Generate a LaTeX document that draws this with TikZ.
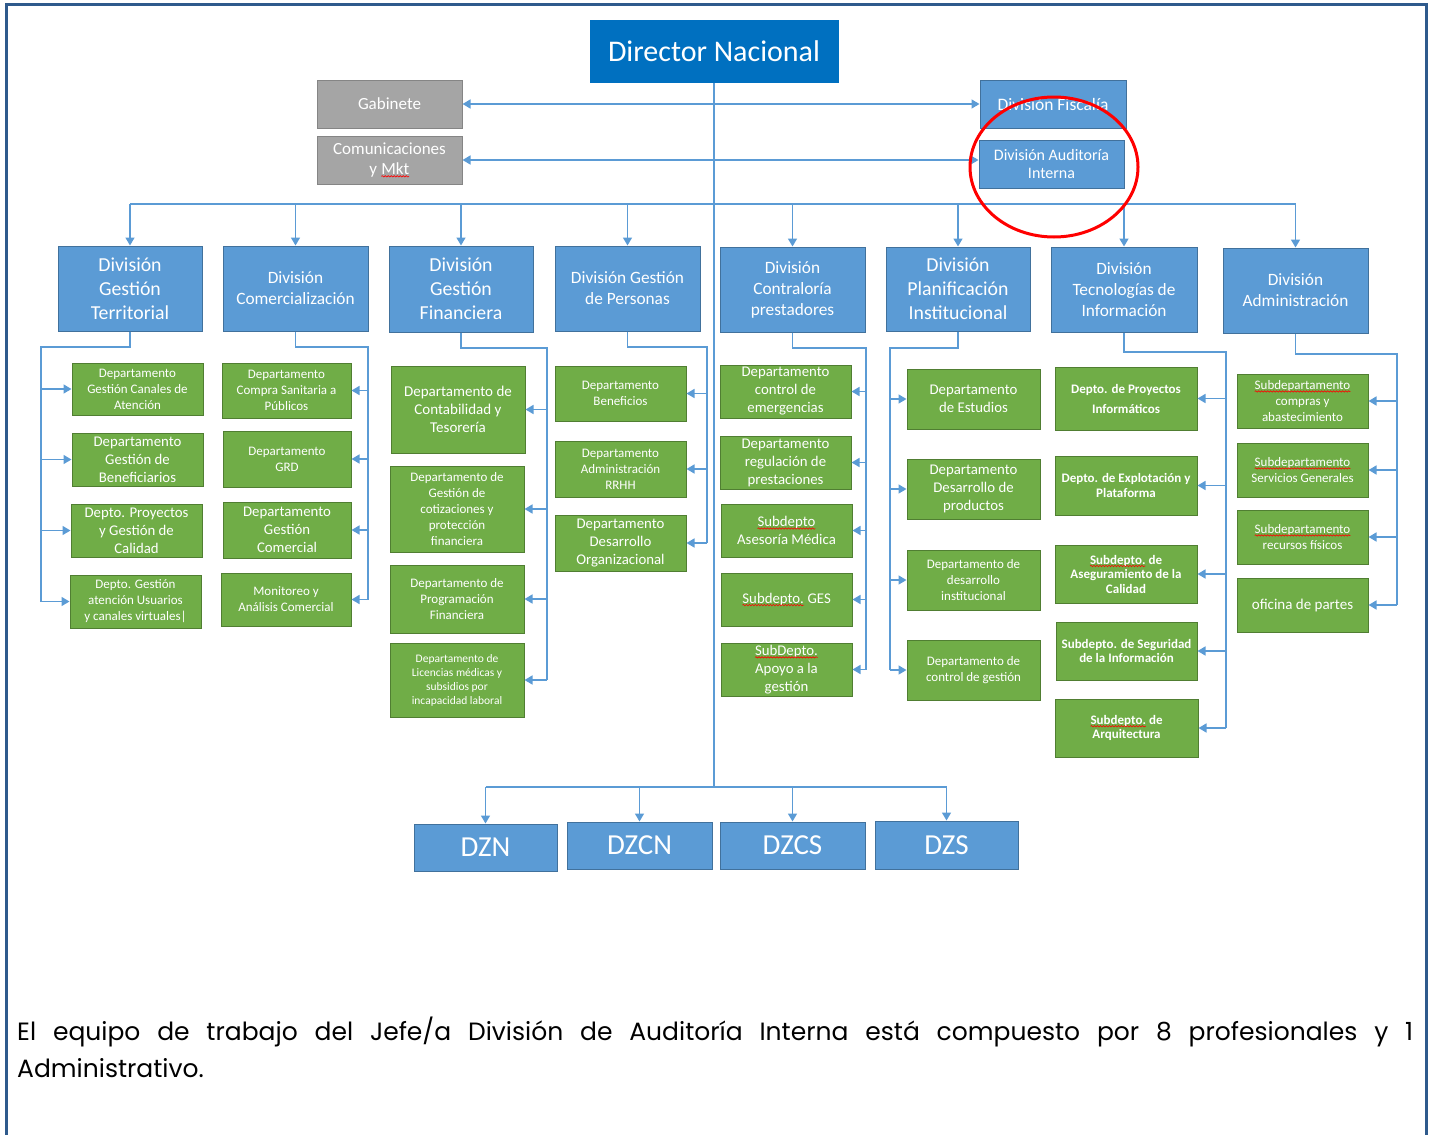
\documentclass[tikz,border=0pt]{standalone}
\usepackage{fontspec}
\setmainfont{Carlito}
\newfontfamily\gothic{Poppins}
\usetikzlibrary{arrows.meta,decorations.pathmorphing}
\definecolor{dnblue}{HTML}{0070C0}
\definecolor{lblue}{HTML}{5B9BD5}
\definecolor{lbluedk}{HTML}{41719C}
\definecolor{ggreen}{HTML}{70AD47}
\definecolor{ggreendk}{HTML}{507E32}
\definecolor{ggray}{HTML}{A5A5A5}
\definecolor{ggraydk}{HTML}{858585}
\definecolor{frameblue}{HTML}{2F5A8C}
\definecolor{conn}{HTML}{5B9BD5}
\newcommand\wavy[1]{\tikz[baseline=(w.base)]{\node[draw=none, fill=none, minimum width=0pt, minimum height=0pt, inner sep=0pt, outer sep=0pt, text=white, align=left] (w) {#1};
  \draw[red, line width=0.6pt, decorate, decoration={snake, amplitude=0.7pt, segment length=3pt}] ([yshift=-2pt]w.base west) -- ([yshift=-2pt]w.base east);}}
\newcommand\bx[7]{\node[#6, minimum width={#4-#2}, minimum height={#5-#3}] (#1) at ({(#2+#4)/2},{(#3+#5)/2}) {#7};}
\tikzset{
  box/.style={draw, line width=1pt, inner sep=0pt, align=center, text=white},
  dbox/.style={box, fill=lblue, draw=lbluedk},
  gbox/.style={box, fill=ggreen, draw=ggreendk},
  grbox/.style={box, fill=ggray, draw=ggraydk},
  line/.style={draw=conn, line width=1.6pt},
  arr/.style={line, -{Triangle[length=8pt,width=9pt]}},
  fA/.style={font=\fontsize{13}{16}\selectfont},
  fS/.style={font=\fontsize{11.5}{14}\selectfont},
  fB/.style={font=\fontsize{14.8}{18}\selectfont},
  fT/.style={font=\fontsize{15}{18}\selectfont},
  fL/.style={font=\fontsize{19.8}{24}\selectfont},
  fM/.style={font=\fontsize{17.3}{21}\selectfont},
  fC/.style={font=\fontsize{13}{14.5}\selectfont\bfseries},
  fZ/.style={font=\fontsize{29}{32}\selectfont},
}
\begin{document}
\begin{tikzpicture}[x=1pt,y=-1pt]
\useasboundingbox (0,0) rectangle (1430,1135);
\draw[frameblue, line width=3pt] (6,1135) -- (6,4) -- (1426,4) -- (1426,1135);

% top level
\bx{dn}{590}{20}{838}{82}{box, fill=dnblue, draw=dnblue, font=\fontsize{30}{34}\selectfont}{Director Nacional}
\bx{gab}{317}{80}{462}{128}{grbox, font=\fontsize{17}{20}\selectfont}{Gabinete}
\bx{com}{317}{136}{462}{184}{grbox, font=\fontsize{17}{20}\selectfont}{Comunicaciones\\y \wavy{Mkt}}
\bx{fis}{980}{80}{1126}{128}{dbox, font=\fontsize{17.5}{20}\selectfont}{División Fiscalía}
\bx{aud}{979}{140}{1124}{188}{dbox, font=\fontsize{16}{18}\selectfont}{División Auditoría\\Interna}

% divisions
\bx{dgt}{58}{246}{202}{331}{dbox, fL}{División\\Gestión\\Territorial}
\bx{dcom}{223}{246}{368}{331}{dbox, fM}{División\\Comercialización}
\bx{dfin}{389}{246}{533}{332}{dbox, fL}{División\\Gestión\\Financiera}
\bx{dper}{555}{246}{700}{331}{dbox, fM}{División Gestión\\de Personas}
\bx{dcon}{720}{247}{865}{332}{dbox, fM}{División\\Contraloría\\prestadores}
\bx{dpla}{886}{247}{1030}{331}{dbox, fL}{División\\Planificación\\Institucional}
\bx{dtec}{1051}{247}{1197}{332}{dbox, fM}{División\\Tecnologías de\\Información}
\bx{dadm}{1223}{248}{1368}{333}{dbox, fM}{División\\Administración}

% column 1
\bx{g11}{72}{363}{203}{415}{gbox, fA}{Departamento\\Gestión Canales de\\Atención}
\bx{g12}{72}{433}{203}{486}{gbox, fB}{Departamento\\Gestión de\\Beneficiarios}
\bx{g13}{71}{504}{202}{557}{gbox, fB}{Depto. Proyectos\\y Gestión de\\Calidad}
\bx{g14}{70}{575}{201}{628}{gbox, fA}{Depto. Gestión\\atención Usuarios\\y canales virtuales|}
% column 2
\bx{g21}{222}{363}{351}{418}{gbox, fA}{Departamento\\Compra Sanitaria a\\Públicos}
\bx{g22}{223}{431}{351}{487}{gbox, fA}{Departamento\\GRD}
\bx{g23}{223}{502}{351}{558}{gbox, fB}{Departamento\\Gestión\\Comercial}
\bx{g24}{221}{573}{351}{626}{gbox, fA}{Monitoreo y\\Análisis Comercial}
% column 3
\bx{g31}{391}{366}{525}{453}{gbox, fT}{Departamento de\\Contabilidad y\\Tesorería}
\bx{g32}{390}{466}{524}{552}{gbox, fA}{Departamento de\\Gestión de\\cotizaciones y\\protección\\financiera}
\bx{g33}{390}{565}{524}{633}{gbox, fA}{Departamento de\\Programación\\Financiera}
\bx{g34}{390}{643}{524}{717}{gbox, fS}{Departamento de\\Licencias médicas y\\subsidios por\\incapacidad laboral}
% column 4
\bx{g41}{555}{366}{686}{421}{gbox, fA}{Departamento\\Beneficios}
\bx{g42}{555}{441}{686}{497}{gbox, fA}{Departamento\\Administración\\RRHH}
\bx{g43}{555}{515}{686}{571}{gbox, fB}{Departamento\\Desarrollo\\Organizacional}
% column 5
\bx{g51}{720}{365}{851}{418}{gbox, fB}{Departamento\\control de\\emergencias}
\bx{g52}{720}{436}{851}{489}{gbox, fB}{Departamento\\regulación de\\prestaciones}
\bx{g53}{721}{504}{852}{557}{gbox, fB}{\wavy{Subdepto}\\Asesoría Médica}
\bx{g54}{721}{573}{852}{626}{gbox, fB}{\wavy{Subdepto.} GES}
\bx{g55}{721}{643}{852}{696}{gbox, fB}{\wavy{SubDepto.}\\Apoyo a la\\gestión}
% column 6
\bx{g61}{907}{369}{1040}{429}{gbox, fB}{Departamento\\de Estudios}
\bx{g62}{907}{459}{1040}{519}{gbox, fB}{Departamento\\Desarrollo de\\productos}
\bx{g63}{907}{550}{1040}{610}{gbox, fA}{Departamento de\\desarrollo\\institucional}
\bx{g64}{907}{640}{1040}{700}{gbox, fA}{Departamento de\\control de gestión}
% column 7
\bx{g71}{1055}{367}{1197}{430}{gbox, font=\fontsize{13}{20}\selectfont\bfseries}{Depto. de Proyectos\\Informáticos}
\bx{g72}{1055}{456}{1197}{515}{gbox, fC}{Depto. de Explotación y\\Plataforma}
\bx{g73}{1055}{545}{1197}{603}{gbox, fC}{\wavy{Subdepto.} de\\Aseguramiento de la\\Calidad}
\bx{g74}{1056}{622}{1197}{680}{gbox, fC}{Subdepto. de Seguridad\\de la Información}
\bx{g75}{1055}{699}{1198}{757}{gbox, fC}{\wavy{Subdepto.} de\\Arquitectura}
% column 8
\bx{g81}{1237}{374}{1368}{428}{gbox, fA}{\wavy{Subdepartamento}\\compras y\\abastecimiento}
\bx{g82}{1237}{443}{1368}{497}{gbox, fA}{\wavy{Subdepartamento}\\Servicios Generales}
\bx{g83}{1237}{510}{1368}{564}{gbox, fA}{\wavy{Subdepartamento}\\recursos físicos}
\bx{g84}{1237}{578}{1368}{632}{gbox, fT}{oficina de partes}

% zonal
\bx{dzn}{414}{824}{557}{871}{dbox, fZ}{DZN}
\bx{dzcn}{567}{822}{712}{869}{dbox, fZ}{DZCN}
\bx{dzcs}{720}{822}{865}{869}{dbox, fZ}{DZCS}
\bx{dzs}{875}{821}{1018}{869}{dbox, fZ}{DZS}

% main connectors
\coordinate (bj) at (714,787);
\coordinate (busL) at (130,204);
\draw[line] (dn.south) -- (bj);
\draw[arr] (dn.south |- gab.east) -- (gab.east);
\draw[arr] (dn.south |- gab.east) -- (fis.west);
\draw[arr] (dn.south |- com.east) -- (com.east);
\draw[arr] (dn.south |- com.east) -- (aud.west |- com.east);
\draw[line] (dgt.north |- busL) -- (dadm.north |- busL);
\foreach \d in {dgt,dcom,dfin,dper,dcon,dpla,dtec,dadm}{
  \draw[arr] (\d.north |- busL) -- (\d.north);
}
\draw[line] (dzn.north |- bj) -- (dzs.north |- bj);
\foreach \d in {dzn,dzcn,dzcs,dzs}{
  \draw[arr] (\d.north |- bj) -- (\d.north);
}

% column connectors
\coordinate (c1) at (41,347);
\draw[line] (dgt.south) |- (c1) -- (c1 |- g14.west);
\foreach \g in {g11,g12,g13,g14}{\draw[arr] (c1 |- \g.west) -- (\g.west);}
\coordinate (c2) at (368,347);
\draw[line] (dcom.south) |- (c2) -- (c2 |- g24.east);
\foreach \g in {g21,g22,g23,g24}{\draw[arr] (c2 |- \g.east) -- (\g.east);}
\coordinate (c3) at (547,348);
\draw[line] (dfin.south) |- (c3) -- (c3 |- g34.east);
\foreach \g in {g31,g32,g33,g34}{\draw[arr] (c3 |- \g.east) -- (\g.east);}
\coordinate (c4) at (707,347);
\draw[line] (dper.south) |- (c4) -- (c4 |- g43.east);
\foreach \g in {g41,g42,g43}{\draw[arr] (c4 |- \g.east) -- (\g.east);}
\coordinate (c5) at (866,348);
\draw[line] (dcon.south) |- (c5) -- (c5 |- g55.east);
\foreach \g in {g51,g52,g53,g54,g55}{\draw[arr] (c5 |- \g.east) -- (\g.east);}
\coordinate (c6) at (890,348);
\draw[line] (dpla.south) |- (c6) -- (c6 |- g64.west);
\foreach \g in {g61,g62,g63,g64}{\draw[arr] (c6 |- \g.west) -- (\g.west);}
\coordinate (c7) at (1226,352);
\draw[line] (dtec.south) |- (c7) -- (c7 |- g75.east);
\foreach \g in {g71,g72,g73,g74,g75}{\draw[arr] (c7 |- \g.east) -- (\g.east);}
\coordinate (c8) at (1397,354);
\draw[line] (dadm.south) |- (c8) -- (c8 |- g84.east);
\foreach \g in {g81,g82,g83,g84}{\draw[arr] (c8 |- \g.east) -- (\g.east);}

% highlight
\draw[red, line width=3pt] (1054,167) ellipse [x radius=84, y radius=70];

% caption
\node[anchor=base west, inner sep=0pt, font=\gothic\fontsize{25}{30}\selectfont] (t1) at (17,1040)
  {\makebox[1396pt][s]{El equipo de trabajo del Jefe/a División de Auditoría Interna está compuesto por 8 profesionales y 1}};
\node[anchor=base west, inner sep=0pt, font=\gothic\fontsize{25}{30}\selectfont] (t2) at (17,1077) {Administrativo.};
\end{tikzpicture}
\end{document}
